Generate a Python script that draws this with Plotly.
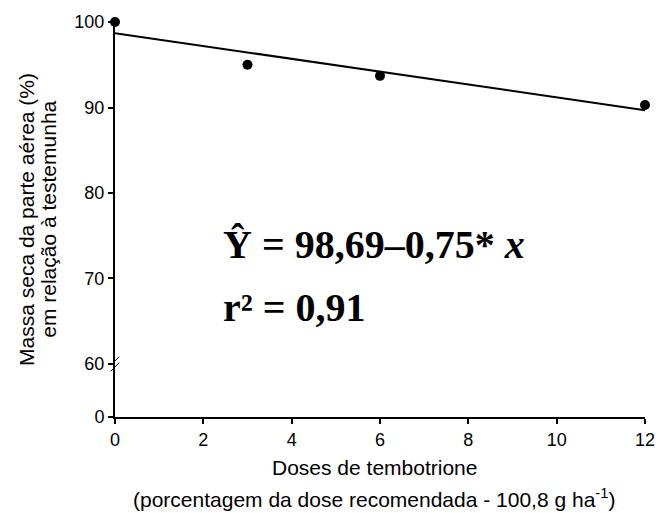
import plotly.graph_objects as go

doses = [0, 3, 6, 12]
massa = [100.0, 95.0, 93.7, 90.3]
fit_x = [0, 12]
fit_y = [98.69, 89.69]
y_break_bottom = 53.8  # display position of the "0" tick below the axis break
y_tickvals = [y_break_bottom, 60, 70, 80, 90, 100]
y_ticktext = ["0", "60", "70", "80", "90", "100"]
x_tickvals = [0, 2, 4, 6, 8, 10, 12]

fig = go.Figure()
fig.add_trace(go.Scatter(x=fit_x, y=fit_y, mode="lines",
                         line=dict(color="black", width=2), cliponaxis=False,
                         showlegend=False))
fig.add_trace(go.Scatter(x=doses, y=massa, mode="markers",
                         marker=dict(color="black", size=10), cliponaxis=False,
                         showlegend=False))

font_ax = "Liberation Sans, Arial, sans-serif"
fig.update_layout(
    width=667, height=513,
    margin=dict(l=115, r=12, t=22, b=96),
    paper_bgcolor="white", plot_bgcolor="white",
    font=dict(family=font_ax, size=18, color="black"),
    xaxis=dict(range=[0, 12], tickvals=x_tickvals, showgrid=False, zeroline=False,
               showline=True, linecolor="black", linewidth=2,
               ticks="outside", ticklen=5, tickwidth=1.5, tickcolor="black",
               tickfont=dict(size=18, family=font_ax)),
    yaxis=dict(range=[y_break_bottom, 100], tickvals=y_tickvals, ticktext=y_ticktext,
               showgrid=False, zeroline=False,
               showline=True, linecolor="black", linewidth=2,
               ticks="outside", ticklen=5, tickwidth=1.5, tickcolor="black",
               tickfont=dict(size=18, family=font_ax)),
)

# axis break marks
for dy in [-0.35, 0.35]:
    fig.add_shape(type="line", xref="paper", yref="y",
                  x0=-0.008, x1=0.008, y0=60 + dy - 0.5, y1=60 + dy + 0.5,
                  line=dict(color="black", width=1))

fig.add_annotation(xref="paper", yref="paper", x=0.489, y=-0.129,
                   text="Doses de tembotrione", showarrow=False,
                   font=dict(size=21, family=font_ax), xanchor="center", yanchor="middle")
fig.add_annotation(xref="paper", yref="paper", x=0.489, y=-0.205,
                   text="(porcentagem da dose recomendada - 100,8 g ha<sup>-1</sup>)",
                   showarrow=False, font=dict(size=21, family=font_ax),
                   xanchor="center", yanchor="middle")
fig.add_annotation(xref="paper", yref="paper", x=-0.167, y=0.5,
                   text="Massa seca da parte aérea (%)",
                   textangle=-90, showarrow=False, font=dict(size=21, family=font_ax),
                   xanchor="center", yanchor="middle")
fig.add_annotation(xref="paper", yref="paper", x=-0.126, y=0.5,
                   text="em relação à testemunha",
                   textangle=-90, showarrow=False, font=dict(size=21, family=font_ax),
                   xanchor="center", yanchor="middle")

serif = "Liberation Serif, Times New Roman, serif"
fig.add_annotation(xref="x", yref="y", x=2.4, y=74.0,
                   text="<b>Ŷ = 98,69–0,75* <i>x</i></b>", showarrow=False,
                   font=dict(size=40, family=serif), xanchor="left", yanchor="middle")
fig.add_annotation(xref="x", yref="y", x=2.4, y=66.6,
                   text="<b>r² = 0,91</b>", showarrow=False,
                   font=dict(size=40, family=serif), xanchor="left", yanchor="middle")

fig.write_html("out.html")
